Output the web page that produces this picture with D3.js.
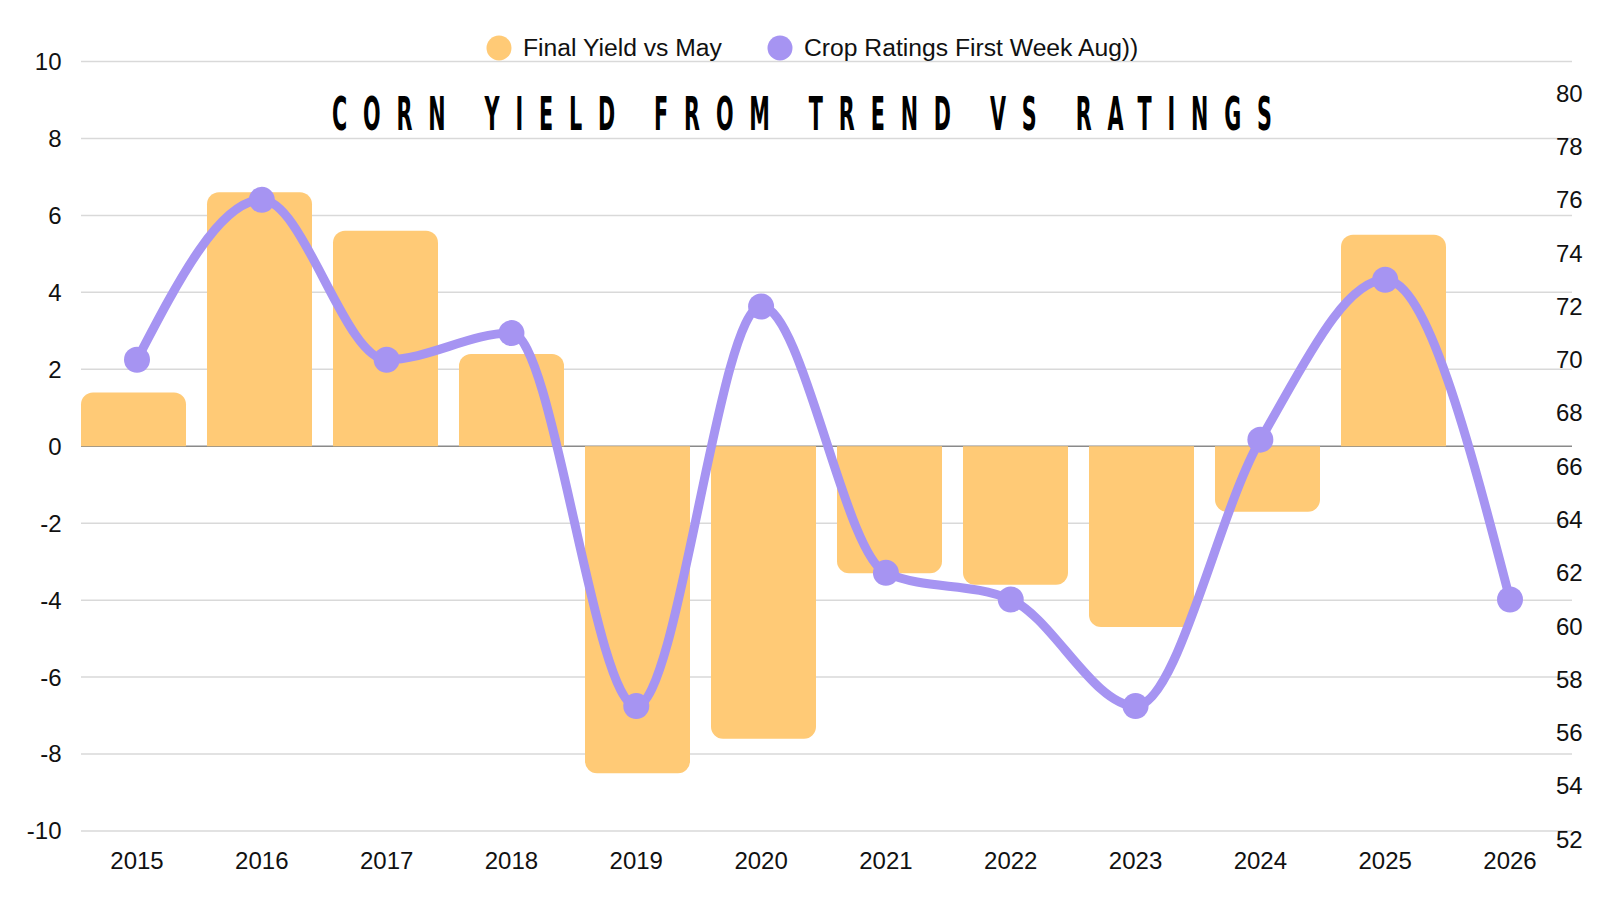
<!DOCTYPE html>
<html>
<head>
<meta charset="utf-8">
<script src="https://cdn.jsdelivr.net/npm/d3@7"></script>
<style>
  body { margin: 0; background: #fff; }
  svg { display: block; }
</style>
</head>
<body>
<svg id="chart" width="1600" height="900"></svg>
<script>
// chart data
var years = ["2015", "2016", "2017", "2018", "2019", "2020", "2021", "2022", "2023", "2024", "2025", "2026"];
var yieldVsMay = [1.4, 6.6, 5.6, 2.4, -8.5, -7.6, -3.3, -3.6, -4.7, -1.7, 5.5, null];
var cropRatings = [70, 76, 70, 71, 57, 72, 62, 61, 57, 67, 73, 61];
var leftTicks = [-10, -8, -6, -4, -2, 0, 2, 4, 6, 8, 10];
var rightTicks = [52, 54, 56, 58, 60, 62, 64, 66, 68, 70, 72, 74, 76, 78, 80];
var seriesNames = ["Final Yield vs May", "Crop Ratings First Week Aug))"];

var barColor = "#ffca76",
    lineColor = "#a694f2",
    font = "'Liberation Sans', Arial, sans-serif";

var svg = d3.select("#chart");

var xBand = d3.scaleBand().domain(years).range([81, 1572]).paddingInner(1 / 6).paddingOuter(0);
var xPoint = d3.scalePoint().domain(years).range([137, 1510]);
var yLeft = d3.scaleLinear().domain([-10, 10]).range([831, 61.5]);
var yRight = d3.scaleLinear().domain([52, 80]).range([839.3, 93.3]);

// gridlines
svg.append("g").attr("class", "grid")
  .selectAll("line").data(leftTicks.filter(function(d) { return d !== 0; })).enter()
  .append("line")
    .attr("x1", 81).attr("x2", 1572)
    .attr("y1", function(d) { return yLeft(d); })
    .attr("y2", function(d) { return yLeft(d); })
    .attr("stroke", "#d9d9d9").attr("stroke-width", 1.5);

svg.append("line")
  .attr("x1", 81).attr("x2", 1572)
  .attr("y1", yLeft(0)).attr("y2", yLeft(0))
  .attr("stroke", "#8a8a8a").attr("stroke-width", 1.5);

// bars, rounded at the outer end only
function barPath(x, w, yZero, yVal, r) {
  var p = d3.path();
  var h = Math.abs(yVal - yZero);
  r = Math.min(r, h, w / 2);
  if (yVal < yZero) {
    p.moveTo(x, yZero);
    p.lineTo(x, yVal + r);
    p.arcTo(x, yVal, x + r, yVal, r);
    p.lineTo(x + w - r, yVal);
    p.arcTo(x + w, yVal, x + w, yVal + r, r);
    p.lineTo(x + w, yZero);
  } else {
    p.moveTo(x, yZero);
    p.lineTo(x, yVal - r);
    p.arcTo(x, yVal, x + r, yVal, r);
    p.lineTo(x + w - r, yVal);
    p.arcTo(x + w, yVal, x + w, yVal - r, r);
    p.lineTo(x + w, yZero);
  }
  p.closePath();
  return p.toString();
}

var barData = years.map(function(y, i) { return { year: y, value: yieldVsMay[i] }; })
  .filter(function(d) { return d.value !== null; });

svg.append("g").attr("class", "bars")
  .selectAll("path").data(barData).enter()
  .append("path")
    .attr("d", function(d) {
      return barPath(xBand(d.year), xBand.bandwidth(), yLeft(0), yLeft(d.value), 12);
    })
    .attr("fill", barColor);

// ratings line
var lineData = years.map(function(y, i) { return { year: y, value: cropRatings[i] }; });
var line = d3.line()
  .x(function(d) { return xPoint(d.year); })
  .y(function(d) { return yRight(d.value); })
  .curve(d3.curveMonotoneX);

svg.append("path")
  .datum(lineData)
  .attr("d", line)
  .attr("fill", "none")
  .attr("stroke", lineColor)
  .attr("stroke-width", 9)
  .attr("stroke-linejoin", "round");

svg.append("g").attr("class", "points")
  .selectAll("circle").data(lineData).enter()
  .append("circle")
    .attr("cx", function(d) { return xPoint(d.year); })
    .attr("cy", function(d) { return yRight(d.value); })
    .attr("r", 13)
    .attr("fill", lineColor);

// axes labels
svg.append("g").selectAll("text").data(leftTicks).enter()
  .append("text")
    .attr("x", 61.5).attr("y", function(d) { return yLeft(d); })
    .attr("dy", "0.35em")
    .attr("text-anchor", "end")
    .attr("font-family", font).attr("font-size", 24).attr("fill", "#111")
    .text(function(d) { return d; });

svg.append("g").selectAll("text").data(rightTicks).enter()
  .append("text")
    .attr("x", 1556).attr("y", function(d) { return yRight(d); })
    .attr("dy", "0.35em")
    .attr("text-anchor", "start")
    .attr("font-family", font).attr("font-size", 24).attr("fill", "#111")
    .text(function(d) { return d; });

svg.append("g").selectAll("text").data(years).enter()
  .append("text")
    .attr("x", function(d) { return xPoint(d); }).attr("y", 861)
    .attr("dy", "0.35em")
    .attr("text-anchor", "middle")
    .attr("font-family", font).attr("font-size", 24).attr("fill", "#111")
    .text(function(d) { return d; });

// legend
var legend = svg.append("g").attr("class", "legend");
var legendX = [499, 780];
var legendColors = [barColor, lineColor];
seriesNames.forEach(function(name, i) {
  legend.append("circle").attr("cx", legendX[i]).attr("cy", 48).attr("r", 12.5).attr("fill", legendColors[i]);
  legend.append("text")
    .attr("x", legendX[i] + 24).attr("y", 55.5)
    .attr("font-family", font).attr("font-size", 24.7).attr("fill", "#111")
    .text(name);
});

// title, squeezed to mimic a condensed display face
var titleScale = 0.5;
svg.append("text")
  .attr("transform", "translate(802,130) scale(" + titleScale + ",1)")
  .attr("text-anchor", "middle")
  .attr("font-family", "'Liberation Sans Narrow', 'DejaVu Sans Condensed', sans-serif")
  .attr("font-weight", "bold")
  .attr("font-size", 46)
  .attr("textLength", 940 / titleScale)
  .attr("lengthAdjust", "spacing")
  .attr("fill", "#000")
  .text("CORN YIELD FROM TREND VS RATINGS");
</script>
</body>
</html>
